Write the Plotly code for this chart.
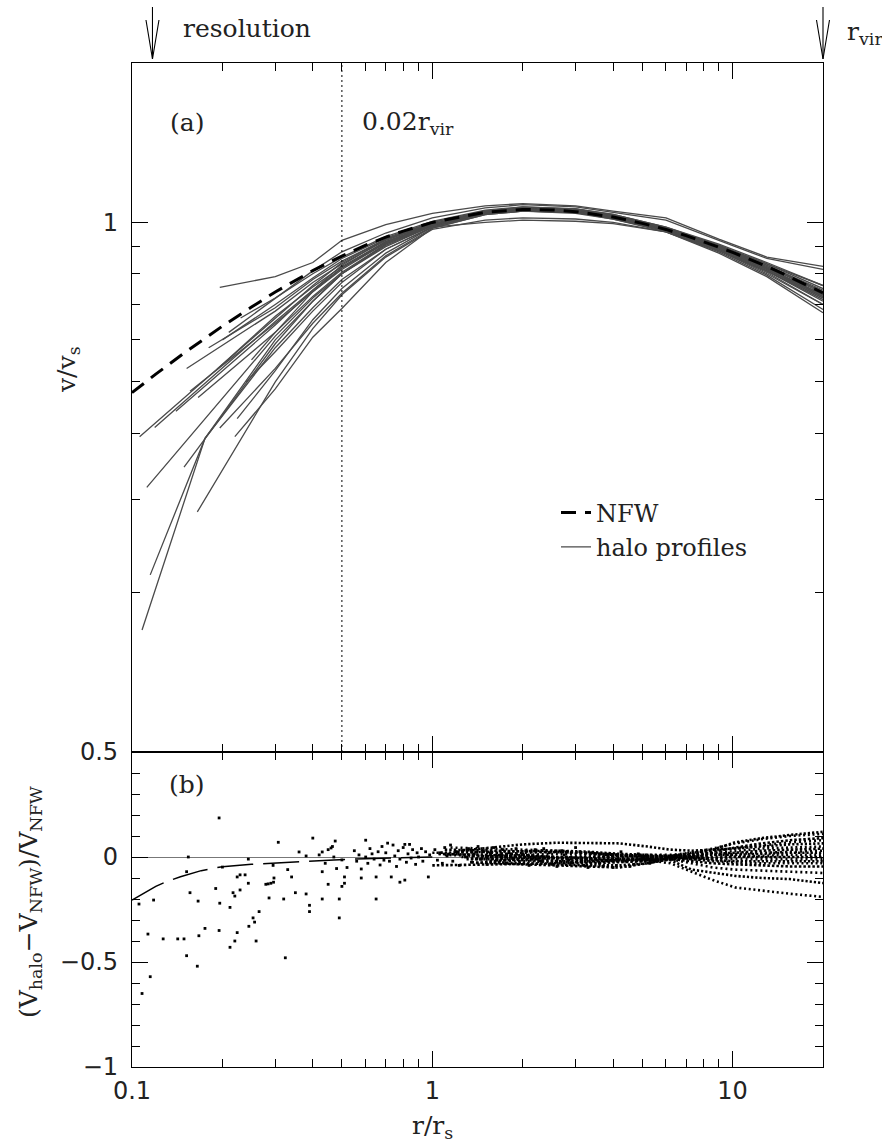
import math
import plotly.graph_objects as go

W, H = 882, 1144
SERIF = "DejaVu Serif"
SANS = "DejaVu Sans"

# ---------------- data ----------------
R_RANGE = [0.1, 20.0]
V_RANGE = [0.1, 2.0]
D_RANGE = [-1.0, 0.5]
R_RESOLUTION = 0.117
R_VIR = 20.0
R_002VIR = 0.5

X_TICKS = [0.1, 1, 10]
X_TICKTEXT = ["0.1", "1", "10"]
X_MINOR = [0.2, 0.3, 0.4, 0.5, 0.6, 0.7, 0.8, 0.9, 2, 3, 4, 5, 6, 7, 8, 9]
V_TICKS = [0.1, 1]
V_TICKTEXT = ["", "1"]
V_MINOR = [0.2, 0.3, 0.4, 0.5, 0.6, 0.7, 0.8, 0.9]
D_TICKS = [-1, -0.5, 0, 0.5]
D_TICKTEXT = ["\u22121", "\u22120.5", "0", "0.5"]
D_MINOR = [-0.9, -0.8, -0.7, -0.6, -0.4, -0.3, -0.2, -0.1, 0.1, 0.2, 0.3, 0.4]

# NFW model curve (v/v_s)
NFW_R = [0.1, 0.12, 0.15, 0.2, 0.25, 0.3, 0.4, 0.5, 0.6, 0.7, 0.8, 1.0, 1.5, 2.0,
         2.5, 3.0, 4.0, 5.0, 6.0, 7.0, 9.0, 10.0, 13.0, 15.0, 20.0]
NFW_V = [0.477, 0.517, 0.568, 0.637, 0.692, 0.739, 0.811, 0.864, 0.906, 0.938, 0.963,
         1.0, 1.045, 1.058, 1.056, 1.048, 1.024, 0.996, 0.970, 0.944, 0.898, 0.878,
         0.826, 0.796, 0.736]

# halo profiles: inner (resolution-limited) points + values on a common radius grid
HALO_GRID_R = [0.3, 0.4, 0.5, 0.7, 1.0, 1.5, 2.0, 3.0, 4.0, 6.0, 9.0, 13.0, 20.0]
HALO_INNER_R = [[0.106], [0.108, 0.175], [0.115, 0.175], [0.112], [0.149], [0.165],
                [0.22], [0.196], [0.224], [0.152], [0.156], [0.166], [0.192], [0.196],
                [0.119], [0.25], [0.20], [0.23], [0.24], [0.18], [0.21], [0.14]]
HALO_INNER_V = [[0.394], [0.170, 0.391], [0.216, 0.391], [0.316], [0.345], [0.284],
                [0.394], [0.409], [0.426], [0.53], [0.48], [0.467], [0.528], [0.754],
                [0.41], [0.55], [0.60], [0.66], [0.50], [0.58], [0.62], [0.44]]
HALO_GRID_V = [
    [0.66, 0.76, 0.84, 0.93, 0.99, 1.04, 1.06, 1.05, 1.03, 0.975, 0.905, 0.83, 0.74],
    [0.58, 0.69, 0.78, 0.89, 0.98, 1.04, 1.055, 1.045, 1.02, 0.97, 0.89, 0.81, 0.715],
    [0.60, 0.71, 0.80, 0.90, 0.985, 1.045, 1.06, 1.05, 1.025, 0.97, 0.895, 0.815, 0.72],
    [0.61, 0.72, 0.80, 0.91, 0.99, 1.05, 1.065, 1.055, 1.03, 0.975, 0.90, 0.82, 0.725],
    [0.59, 0.71, 0.80, 0.905, 0.985, 1.04, 1.06, 1.05, 1.025, 0.97, 0.90, 0.83, 0.745],
    [0.50, 0.63, 0.73, 0.86, 0.97, 1.01, 1.02, 1.015, 1.0, 0.96, 0.885, 0.81, 0.71],
    [0.485, 0.607, 0.688, 0.84, 0.975, 1.035, 1.05, 1.045, 1.02, 0.97, 0.885, 0.80, 0.70],
    [0.53, 0.645, 0.735, 0.865, 0.975, 1.035, 1.05, 1.045, 1.02, 0.965, 0.89, 0.815, 0.725],
    [0.525, 0.655, 0.75, 0.875, 0.98, 1.04, 1.055, 1.05, 1.025, 0.97, 0.895, 0.82, 0.73],
    [0.68, 0.77, 0.835, 0.925, 0.995, 1.045, 1.065, 1.06, 1.035, 0.98, 0.905, 0.835, 0.75],
    [0.645, 0.74, 0.815, 0.915, 0.99, 1.045, 1.06, 1.055, 1.03, 0.975, 0.90, 0.825, 0.735],
    [0.62, 0.725, 0.805, 0.91, 0.985, 1.04, 1.055, 1.05, 1.025, 0.97, 0.895, 0.82, 0.73],
    [0.665, 0.755, 0.825, 0.92, 0.99, 1.045, 1.06, 1.05, 1.025, 0.97, 0.90, 0.825, 0.74],
    [0.79, 0.84, 0.925, 0.99, 1.04, 1.075, 1.085, 1.075, 1.05, 1.02, 0.93, 0.86, 0.826],
    [0.65, 0.745, 0.82, 0.92, 0.99, 1.045, 1.06, 1.05, 1.025, 0.975, 0.905, 0.835, 0.76],
    [0.62, 0.74, 0.82, 0.915, 0.99, 1.04, 1.055, 1.045, 1.02, 0.965, 0.885, 0.805, 0.70],
    [0.70, 0.785, 0.855, 0.935, 1.0, 1.05, 1.07, 1.06, 1.035, 0.98, 0.91, 0.84, 0.76],
    [0.72, 0.80, 0.86, 0.94, 1.005, 1.055, 1.07, 1.06, 1.03, 0.975, 0.895, 0.82, 0.725],
    [0.57, 0.68, 0.77, 0.89, 0.98, 1.0, 1.01, 1.005, 0.995, 0.96, 0.88, 0.795, 0.685],
    [0.69, 0.78, 0.845, 0.93, 0.995, 1.04, 1.05, 1.04, 1.015, 0.965, 0.885, 0.81, 0.72],
    [0.72, 0.81, 0.88, 0.955, 1.02, 1.065, 1.08, 1.07, 1.045, 1.01, 0.925, 0.855, 0.815],
    [0.64, 0.745, 0.83, 0.93, 1.0, 1.05, 1.06, 1.045, 1.015, 0.96, 0.875, 0.79, 0.675],
]

# lower panel: long-dashed curve
LD_R = [0.1, 0.11, 0.12, 0.13, 0.145, 0.17, 0.2, 0.25, 0.29, 0.35, 0.47, 0.6, 0.8, 1.0]
LD_D = [-0.205, -0.17, -0.14, -0.118, -0.094, -0.065, -0.046, -0.035, -0.03, -0.022,
        -0.014, -0.008, -0.004, 0.0]

# lower panel: residual tracks of the halos (finely sampled, drawn dotted)
RES_R_START = [1.0, 1.35, 1.1, 1.5, 1.25, 1.05, 1.4, 1.15, 1.3, 1.45, 1.0, 1.2, 1.55,
               1.1, 1.35, 1.25, 1.05, 1.4]
RES_R = [1.6, 2.0, 2.6, 3.3, 4.2, 5.2, 6.2, 7.3, 8.6, 10.2, 12.5, 15.5, 20.0]
RES_D = [
    [0.02, 0.025, 0.03, 0.03, 0.025, 0.015, 0.01, 0.005, 0.015, 0.035, 0.07, 0.09, 0.105, 0.12],
    [-0.01, 0.0, 0.01, 0.015, 0.015, 0.01, 0.005, 0.005, 0.02, 0.04, 0.065, 0.085, 0.10, 0.11],
    [0.035, 0.03, 0.025, 0.02, 0.02, 0.01, 0.0, 0.0, 0.01, 0.025, 0.045, 0.065, 0.08, 0.09],
    [0.0, 0.01, 0.02, 0.025, 0.015, 0.01, 0.01, 0.01, 0.02, 0.03, 0.04, 0.055, 0.07, 0.08],
    [0.03, 0.045, 0.06, 0.068, 0.068, 0.065, 0.05, 0.035, 0.03, 0.035, 0.04, 0.05, 0.06, 0.065],
    [0.015, 0.01, 0.005, 0.0, 0.005, 0.0, 0.0, 0.0, 0.01, 0.02, 0.03, 0.04, 0.045, 0.05],
    [-0.03, -0.02, -0.01, -0.005, 0.0, 0.005, 0.005, 0.005, 0.01, 0.015, 0.02, 0.03, 0.035, 0.04],
    [0.045, 0.04, 0.035, 0.03, 0.02, 0.01, 0.0, -0.005, 0.0, 0.01, 0.015, 0.02, 0.025, 0.03],
    [-0.01, -0.01, -0.015, -0.02, -0.02, -0.015, -0.01, 0.0, 0.005, 0.01, 0.01, 0.015, 0.02, 0.02],
    [0.005, 0.0, -0.005, -0.01, -0.01, -0.01, -0.01, -0.01, 0.0, 0.0, 0.005, 0.005, 0.01, 0.01],
    [-0.04, -0.035, -0.03, -0.03, -0.03, -0.025, -0.02, -0.005, -0.005, -0.005, 0.0, 0.0, 0.0, 0.0],
    [0.025, 0.02, 0.01, 0.0, -0.01, -0.02, -0.015, 0.0, -0.005, -0.01, -0.01, -0.01, -0.01, -0.01],
    [-0.02, -0.025, -0.03, -0.035, -0.04, -0.04, -0.03, -0.01, -0.01, -0.015, -0.02, -0.02, -0.02, -0.02],
    [0.01, 0.005, 0.0, -0.005, -0.01, -0.015, -0.01, 0.0, -0.01, -0.02, -0.025, -0.03, -0.03, -0.03],
    [-0.025, -0.03, -0.035, -0.04, -0.045, -0.05, -0.03, -0.01, -0.02, -0.03, -0.035, -0.04, -0.045, -0.045],
    [0.0, -0.005, -0.01, -0.015, -0.02, -0.02, -0.015, -0.01, -0.03, -0.05, -0.06, -0.065, -0.07, -0.076],
    [0.015, 0.01, 0.005, 0.0, -0.005, -0.01, -0.01, -0.015, -0.06, -0.075, -0.09, -0.10, -0.105, -0.124],
    [-0.01, -0.015, -0.02, -0.025, -0.025, -0.02, -0.015, -0.03, -0.07, -0.11, -0.145, -0.16, -0.175, -0.19],
]

# lower panel: individual residual points
SC_R = [0.195, 0.154, 0.152, 0.2, 0.224, 0.229, 0.238, 0.244, 0.295, 0.297, 0.307, 0.33,
        0.34, 0.36, 0.38, 0.4, 0.43, 0.43, 0.46, 0.465, 0.475, 0.5, 0.51, 0.52,
        0.1055, 0.118, 0.113, 0.115, 0.108, 0.127, 0.142, 0.149, 0.152, 0.165, 0.156, 0.166,
        0.167, 0.175, 0.195, 0.19, 0.196, 0.212, 0.212, 0.22, 0.224, 0.217, 0.22, 0.229,
        0.244, 0.245, 0.253, 0.256, 0.265, 0.259, 0.286, 0.279, 0.284, 0.29, 0.296, 0.32,
        0.324, 0.35, 0.38, 0.39, 0.39, 0.43, 0.45, 0.49, 0.49, 0.5, 0.51, 0.65, 0.78, 0.81,
        0.42, 0.44, 0.47, 0.48, 0.45,
        0.55, 0.56, 0.57, 0.58, 0.58, 0.6, 0.6, 0.61, 0.62, 0.63, 0.64, 0.65, 0.66, 0.67,
        0.68, 0.69, 0.7, 0.71, 0.72, 0.73, 0.74, 0.75, 0.76, 0.77, 0.78, 0.8, 0.81, 0.82,
        0.83, 0.84, 0.85, 0.86, 0.88, 0.89, 0.9, 0.92, 0.93, 0.95, 0.97, 0.98,
        1.02, 1.04, 1.06, 1.08, 1.1, 1.12, 1.15, 1.17, 1.2, 1.23, 1.26, 1.29, 1.32, 1.35,
        1.38, 1.42, 1.45, 1.48, 1.52, 1.56, 1.6, 1.64, 1.68, 1.72, 1.76, 1.8, 1.85, 1.9,
        1.95, 2.0, 2.05, 2.1, 2.15, 2.2,
        2.3, 2.45, 2.6, 2.75, 2.9, 3.1, 3.3, 3.5, 3.7, 3.9, 4.1, 4.4, 4.7, 5.0,
        2.35, 2.5, 2.7, 2.85, 3.0, 3.2, 3.4, 3.6, 3.8, 4.0, 4.25, 4.55, 4.85, 5.3, 5.6]
SC_D = [0.186, 0.0, -0.07, -0.048, -0.095, -0.085, -0.085, -0.01, -0.04, -0.1, 0.07, -0.06,
        -0.095, 0.024, 0.005, 0.09, 0.024, -0.07, 0.043, 0.05, 0.076, -0.014, -0.095, -0.05,
        -0.224, -0.205, -0.367, -0.57, -0.65, -0.39, -0.39, -0.39, -0.47, -0.52, -0.17, -0.21,
        -0.375, -0.34, -0.35, -0.15, -0.22, -0.24, -0.43, -0.40, -0.36, -0.17, -0.186, -0.157,
        -0.125, -0.33, -0.29, -0.31, -0.26, -0.40, -0.195, -0.13, -0.128, -0.125, -0.12, -0.2,
        -0.48, -0.17, -0.176, -0.23, -0.26, -0.2, -0.13, -0.2, -0.29, -0.14, -0.125, -0.2,
        -0.12, -0.11,
        0.01, -0.03, 0.0, -0.055, 0.035,
        0.03, -0.02, 0.01, -0.057, -0.1, 0.08, 0.0, -0.03, 0.04, 0.015, -0.01, -0.095, 0.025,
        -0.038, 0.05, -0.015, 0.02, 0.066, -0.02, -0.095, 0.057, 0.005, -0.045, 0.03, -0.01,
        0.045, 0.06, -0.025, 0.015, 0.06, -0.005, 0.035, -0.035, 0.02, 0.0, 0.04, -0.02,
        0.025, -0.095, 0.01,
        0.035, -0.015, 0.02, -0.03, 0.045, 0.005, 0.057, -0.02, 0.025, -0.04, 0.03, 0.0,
        0.04, -0.025, 0.015, 0.05, -0.01, 0.03, -0.035, 0.02, 0.045, -0.015, 0.01, 0.035,
        -0.03, 0.02, -0.005, 0.04, -0.02, 0.015, 0.03, -0.04, 0.005, 0.035,
        -0.02, 0.02, -0.045, 0.01, -0.03, 0.025, -0.05, -0.01, -0.045, 0.015, -0.04, -0.02,
        -0.035, 0.0,
        0.04, -0.035, 0.03, -0.015, 0.045, -0.04, 0.02, -0.03, 0.01, -0.05, 0.025, -0.045,
        0.015, -0.03, -0.01]

# ---------------- layout geometry ----------------
XD = [132 / W, 823 / W]
YU = [1 - 752 / H, 1 - 63 / H]
YL = [1 - 1067 / H, 1 - 752 / H]
LOG_R = [math.log10(R_RANGE[0]), math.log10(R_RANGE[1])]
PX_PER_DEC = (XD[1] - XD[0]) * W / (LOG_R[1] - LOG_R[0])
LOG_R_FULL = [LOG_R[0] - XD[0] * W / PX_PER_DEC, LOG_R[1] + (1 - XD[1]) * W / PX_PER_DEC]

fig = go.Figure()

HALO_COLOR = "#4a4a4a"
for i in range(len(HALO_GRID_V)):
    r = HALO_INNER_R[i] + HALO_GRID_R
    v = HALO_INNER_V[i] + HALO_GRID_V[i]
    fig.add_trace(go.Scatter(
        x=r, y=v, mode="lines", xaxis="x", yaxis="y",
        line=dict(color=HALO_COLOR, width=1.3),
        name="halo profiles", legendgroup="halo", showlegend=(i == 0), legendrank=2,
        hoverinfo="skip"))

fig.add_trace(go.Scatter(
    x=NFW_R, y=NFW_V, mode="lines", xaxis="x", yaxis="y",
    line=dict(color="black", width=3, dash="15px,9px"),
    name="NFW", legendrank=1, hoverinfo="skip"))

fig.add_trace(go.Scatter(
    x=[R_002VIR, R_002VIR], y=V_RANGE, mode="lines", xaxis="x", yaxis="y",
    line=dict(color="black", width=1, dash="2px,3px"), showlegend=False, hoverinfo="skip"))

# lower panel
DOT_STYLES = ["2.2px,2px", "2px,2.7px", "2.5px,2px", "2px,3px"]
for k, d in enumerate(RES_D):
    fig.add_trace(go.Scatter(
        x=[RES_R_START[k]] + RES_R, y=d, mode="lines", xaxis="x2", yaxis="y2",
        line=dict(color="black", width=2.6, dash=DOT_STYLES[k % len(DOT_STYLES)]),
        showlegend=False, hoverinfo="skip"))

fig.add_trace(go.Scatter(
    x=SC_R, y=SC_D, mode="markers", xaxis="x2", yaxis="y2",
    marker=dict(symbol="square", size=2.8, color="black", line=dict(width=0)),
    showlegend=False, hoverinfo="skip"))

fig.add_trace(go.Scatter(
    x=LD_R, y=LD_D, mode="lines", xaxis="x2", yaxis="y2",
    line=dict(color="black", width=1.5, dash="36px,10px"), showlegend=False,
    hoverinfo="skip"))

# arrows in the top margin (overlay axes x3/y3: log r, y in pixels from the top)
ARROW_HALF = 10 ** (6.5 / PX_PER_DEC)
for rr in (R_RESOLUTION, R_VIR):
    fig.add_trace(go.Scatter(
        x=[rr, rr, None, rr / ARROW_HALF, rr, rr * ARROW_HALF],
        y=[7, 59, None, 20, 59, 20], mode="lines", xaxis="x3", yaxis="y3",
        line=dict(color="black", width=1.1), showlegend=False, hoverinfo="skip"))

axis_common = dict(showgrid=False, zeroline=False, showline=True, linecolor="black",
                   linewidth=1.2, ticks="inside", tickcolor="black", tickwidth=1.1,
                   mirror="ticks", automargin=False)
tickfont = dict(family=SANS, size=24, color="#222222")
minor_common = dict(tickmode="array", ticks="inside", ticklen=8, tickcolor="black",
                    tickwidth=1.1, showgrid=False)

fig.update_layout(
    template="none",
    width=W, height=H, margin=dict(l=0, r=0, t=0, b=0, pad=0, autoexpand=False),
    paper_bgcolor="white", plot_bgcolor="white",
    xaxis=dict(axis_common, type="log", range=LOG_R, domain=XD, anchor="y",
               tickmode="array", tickvals=X_TICKS, ticklen=16, showticklabels=False,
               minor=dict(minor_common, tickvals=X_MINOR)),
    yaxis=dict(axis_common, type="log", range=[math.log10(V_RANGE[0]), math.log10(V_RANGE[1])],
               domain=YU, anchor="x", tickmode="array", tickvals=V_TICKS,
               ticktext=V_TICKTEXT, ticklen=16, tickfont=tickfont, ticklabelstandoff=8,
               minor=dict(minor_common, tickvals=V_MINOR)),
    xaxis2=dict(axis_common, type="log", range=LOG_R, domain=XD, anchor="y2",
                tickmode="array", tickvals=X_TICKS, ticktext=X_TICKTEXT, ticklen=16,
                tickfont=tickfont, ticklabelstandoff=2,
                minor=dict(minor_common, tickvals=X_MINOR)),
    yaxis2=dict(axis_common, range=D_RANGE, domain=YL, anchor="x2", tickmode="array",
                tickvals=D_TICKS, ticktext=D_TICKTEXT, ticklen=16, tickfont=tickfont,
                ticklabelstandoff=8,
                zeroline=True, zerolinecolor="#777777", zerolinewidth=1,
                minor=dict(minor_common, tickvals=D_MINOR)),
    xaxis3=dict(type="log", range=LOG_R_FULL, domain=[0, 1], anchor="y3", visible=False,
                fixedrange=True, automargin=False),
    yaxis3=dict(range=[63, 0], domain=[YU[1], 1], anchor="x3", visible=False,
                fixedrange=True, automargin=False),
    legend=dict(x=556 / W, y=1 - 530 / H, xanchor="left", yanchor="middle",
                bgcolor="rgba(0,0,0,0)", borderwidth=0,
                font=dict(family=SERIF, size=24, color="#222"),
                tracegroupgap=0, itemwidth=30),
    showlegend=True,
)

txt = dict(family=SERIF, size=25, color="#222222")
ann = [
    dict(x=187 / W, y=1 - 123 / H, text="(a)"),
    dict(x=360 / W, y=1 - 123 / H, text="0.02r<sub>vir</sub>", xanchor="left"),
    dict(x=187 / W, y=1 - 784 / H, text="(b)"),
    dict(x=181 / W, y=1 - 28 / H, text="resolution", xanchor="left"),
    dict(x=845 / W, y=1 - 33 / H, text="r<sub>vir</sub>", xanchor="left"),
    dict(x=68 / W, y=1 - 370 / H, text="v/v<sub>s</sub>", textangle=-90),
    dict(x=30 / W, y=1 - 902 / H,
         text="(V<sub>halo</sub>\u2212V<sub>NFW</sub>)/V<sub>NFW</sub>", textangle=-90),
    dict(x=432 / W, y=1 - 1127 / H, text="r/r<sub>s</sub>"),
]
for a in ann:
    a.setdefault("xanchor", "center")
    fig.add_annotation(xref="paper", yref="paper", showarrow=False, yanchor="middle",
                       font=txt, **a)

fig.write_html("out.html")
